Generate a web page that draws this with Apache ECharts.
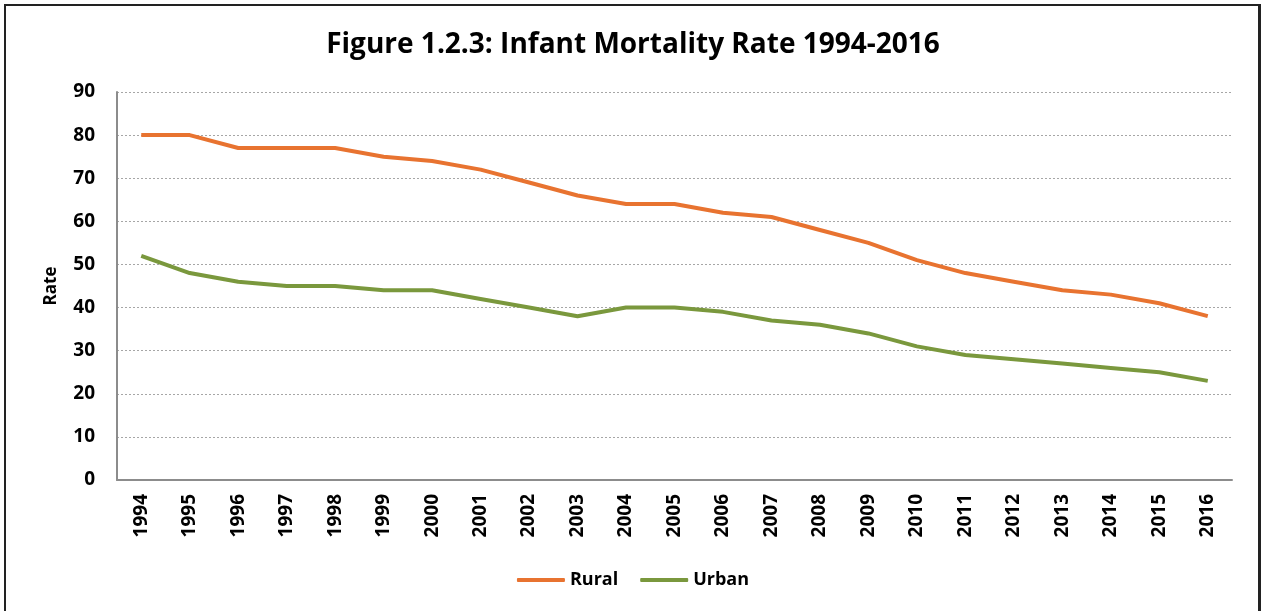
<!DOCTYPE html>
<html>
<head>
<meta charset="utf-8">
<script src="https://cdn.jsdelivr.net/npm/echarts@6/dist/echarts.min.js"></script>
<style>
    html, body { margin: 0; padding: 0; background: #fff; }
    #frame {
        position: absolute; left: 4px; top: 4px; width: 1257px; height: 620px;
        border: 2px solid #222; border-right-width: 3px; box-sizing: border-box;
    }
    #chart { position: absolute; left: 0; top: 0; width: 1266px; height: 611px; }
</style>
</head>
<body>
<div id="frame"></div>
<div id="chart"></div>
<script>
// data
const years = ['1994', '1995', '1996', '1997', '1998', '1999', '2000', '2001', '2002', '2003', '2004',
    '2005', '2006', '2007', '2008', '2009', '2010', '2011', '2012', '2013', '2014', '2015', '2016'];
const rural = [80, 80, 77, 77, 77, 75, 74, 72, 69, 66, 64, 64, 62, 61, 58, 55, 51, 48, 46, 44, 43, 41, 38];
const urban = [52, 48, 46, 45, 45, 44, 44, 42, 40, 38, 40, 40, 39, 37, 36, 34, 31, 29, 28, 27, 26, 25, 23];

const font = '"Open Sans", "Noto Sans", sans-serif';

const chart = echarts.init(document.getElementById('chart'));
chart.setOption({
    animation: false,
    backgroundColor: 'transparent',
    textStyle: { fontFamily: font },
    title: {
        text: 'Figure 1.2.3: Infant Mortality Rate 1994-2016',
        left: 'center',
        top: 26,
        textStyle: { fontFamily: font, fontSize: 28, fontWeight: 'bold', color: '#000' }
    },
    legend: {
        bottom: 17,
        left: 'center',
        itemWidth: 48,
        itemHeight: 4,
        itemGap: 22,
        icon: 'roundRect',
        textStyle: { fontFamily: font, fontSize: 18, fontWeight: 'bold', color: '#000' },
        data: ['Rural', 'Urban']
    },
    grid: { left: 117, right: 34, top: 92, bottom: 131 },
    xAxis: {
        type: 'category',
        data: years,
        boundaryGap: true,
        axisLine: { lineStyle: { color: '#8c8c8c', width: 2 } },
        axisTick: { show: false },
        axisLabel: {
            rotate: 90,
            margin: 14,
            fontFamily: font,
            fontSize: 19,
            fontWeight: 'bold',
            color: '#000'
        }
    },
    yAxis: {
        type: 'value',
        min: 0,
        max: 90,
        interval: 10,
        name: 'Rate',
        nameLocation: 'middle',
        nameGap: 57,
        nameRotate: 90,
        nameTextStyle: { fontFamily: font, fontSize: 17, fontWeight: 'bold', color: '#000' },
        axisLine: { show: true, lineStyle: { color: '#8c8c8c', width: 2 } },
        axisTick: { show: false },
        axisLabel: { margin: 22, fontFamily: font, fontSize: 19, fontWeight: 'bold', color: '#000' },
        splitLine: { lineStyle: { color: '#a6a6a6', type: [2, 2], width: 1 } }
    },
    series: [
        {
            name: 'Rural',
            type: 'line',
            data: rural,
            symbol: 'none',
            lineStyle: { width: 4, color: '#e87330' },
            itemStyle: { color: '#e87330' }
        },
        {
            name: 'Urban',
            type: 'line',
            data: urban,
            symbol: 'none',
            lineStyle: { width: 4, color: '#7a983d' },
            itemStyle: { color: '#7a983d' }
        }
    ]
});
</script>
</body>
</html>
